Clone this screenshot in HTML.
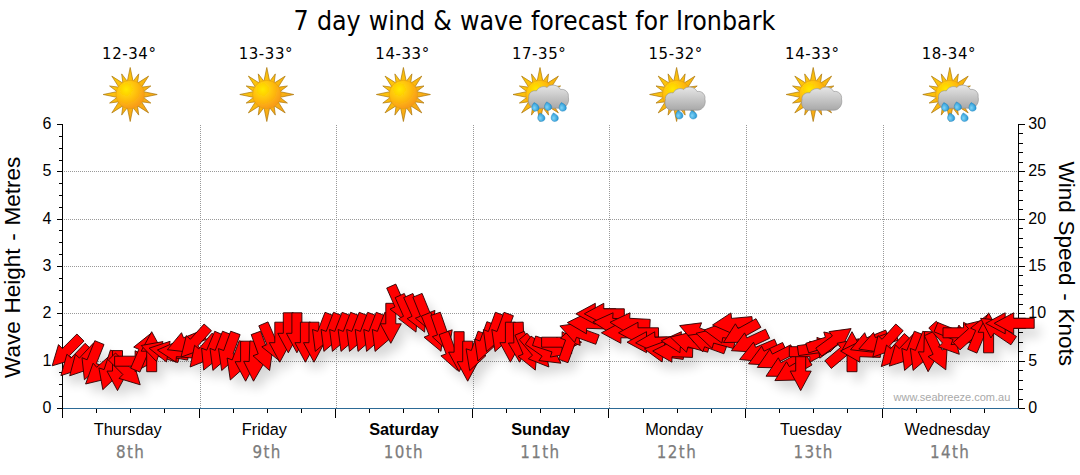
<!DOCTYPE html>
<html lang="en"><head><meta charset="utf-8"><title>7 day wind &amp; wave forecast for Ironbark</title>
<style>
html,body{margin:0;padding:0;background:#fff;}
body{width:1080px;height:475px;overflow:hidden;}
svg{display:block;}
.ax{font-family:"Liberation Sans",Arial,sans-serif;font-size:16px;fill:#000;}
.day{font-family:"Liberation Sans",Arial,sans-serif;font-size:16.3px;fill:#000;text-anchor:middle;}
.dt{font-family:"DejaVu Sans Condensed","DejaVu Sans",sans-serif;font-size:16.8px;fill:#7c7c7c;stroke:#7c7c7c;stroke-width:0.25px;text-anchor:middle;letter-spacing:1.4px;}
.tmp{font-family:"DejaVu Sans Condensed","DejaVu Sans",sans-serif;font-size:16.6px;fill:#000;text-anchor:middle;letter-spacing:0.6px;}
.ttl{font-family:"DejaVu Sans Condensed","DejaVu Sans",sans-serif;font-size:26.46px;fill:#000;text-anchor:middle;word-spacing:0.6px;}
.side{font-family:"Liberation Sans",Arial,sans-serif;font-size:22.5px;fill:#000;text-anchor:middle;word-spacing:1.5px;}
.wm{font-family:"Liberation Sans",Arial,sans-serif;font-size:11px;fill:#a9a9a9;}
</style></head><body>
<svg width="1080" height="475" viewBox="0 0 1080 475">
<defs>
<radialGradient id="sg" cx="0.36" cy="0.32" r="0.75"><stop offset="0" stop-color="#ffe800"/><stop offset="0.45" stop-color="#ffc20a"/><stop offset="1" stop-color="#f7941d"/></radialGradient>
<linearGradient id="rg" x1="0" y1="0" x2="1" y2="1"><stop offset="0" stop-color="#ffd400"/><stop offset="1" stop-color="#f59a1c"/></linearGradient>
<linearGradient id="cg" x1="0" y1="0" x2="0" y2="1"><stop offset="0" stop-color="#e6e6e6"/><stop offset="1" stop-color="#a9a9a9"/></linearGradient>
<radialGradient id="dg" cx="0.35" cy="0.6" r="0.7"><stop offset="0" stop-color="#7fd4f7"/><stop offset="1" stop-color="#1b8fd0"/></radialGradient>
<filter id="sh" x="-5%" y="-30%" width="110%" height="180%"><feGaussianBlur in="SourceAlpha" stdDeviation="5.5"/><feOffset dx="6" dy="9" result="b"/><feComponentTransfer><feFuncA type="linear" slope="0.16"/></feComponentTransfer></filter>
<filter id="is" x="-20%" y="-20%" width="140%" height="140%"><feGaussianBlur stdDeviation="0.45"/></filter>

<g id="sun"><path d="M3.00 -12.50 L0.00 -27.00 L-3.00 -12.50Z M7.19 -10.55 L8.53 -20.60 L2.38 -12.54Z M10.96 -6.72 L18.38 -18.38 L6.72 -10.96Z M12.54 -2.38 L20.60 -8.53 L10.55 -7.19Z M12.50 3.00 L27.00 0.00 L12.50 -3.00Z M10.55 7.19 L20.60 8.53 L12.54 2.38Z M6.72 10.96 L18.38 18.38 L10.96 6.72Z M2.38 12.54 L8.53 20.60 L7.19 10.55Z M-3.00 12.50 L0.00 27.00 L3.00 12.50Z M-7.19 10.55 L-8.53 20.60 L-2.38 12.54Z M-10.96 6.72 L-18.38 18.38 L-6.72 10.96Z M-12.54 2.38 L-20.60 8.53 L-10.55 7.19Z M-12.50 -3.00 L-27.00 0.00 L-12.50 3.00Z M-10.55 -7.19 L-20.60 -8.53 L-12.54 -2.38Z M-6.72 -10.96 L-18.38 -18.38 L-10.96 -6.72Z M-2.38 -12.54 L-8.53 -20.60 L-7.19 -10.55Z" fill="url(#rg)" stroke="#a9740a" stroke-width="0.7"/><circle r="14.2" fill="url(#sg)" stroke="#e09a10" stroke-width="0.5"/></g>
<path id="cloud" d="M-5 13.7 C-10 13.7 -12.6 8 -11.2 3.5 C-12 -1 -8 -4.6 -3.5 -3.6 C-1.5 -7.5 4 -9 7 -7 C10 -10.8 18 -10.2 20.5 -5 C25 -6 29.2 -2 28.3 2.5 C29.8 8 26 13.7 21 13.7 Z" fill="url(#cg)" stroke="#8f8f8f" stroke-width="0.6"/>
<path id="drop" d="M-1.6 -4.6 C-3.2 -2.6 -4.2 -0.4 -3.6 1.6 C-3 3.8 -0.4 4.6 1.6 3.6 C3.8 2.6 4 0 2.6 -1.8 C1.6 -3 -0.2 -4 -1.6 -4.6Z" fill="url(#dg)" stroke="#1479b8" stroke-width="0.4"/>
</defs>
<rect width="1080" height="475" fill="#fff"/>
<g stroke="#999" stroke-width="1" stroke-dasharray="1 1" shape-rendering="crispEdges"><line x1="63.5" y1="361.5" x2="1017.5" y2="361.5"/><line x1="63.5" y1="313.5" x2="1017.5" y2="313.5"/><line x1="63.5" y1="266.5" x2="1017.5" y2="266.5"/><line x1="63.5" y1="219.5" x2="1017.5" y2="219.5"/><line x1="63.5" y1="171.5" x2="1017.5" y2="171.5"/><line x1="200.5" y1="124.5" x2="200.5" y2="407.5"/><line x1="336.5" y1="124.5" x2="336.5" y2="407.5"/><line x1="473.5" y1="124.5" x2="473.5" y2="407.5"/><line x1="609.5" y1="124.5" x2="609.5" y2="407.5"/><line x1="746.5" y1="124.5" x2="746.5" y2="407.5"/><line x1="883.5" y1="124.5" x2="883.5" y2="407.5"/></g>
<text class="wm" x="893.5" y="401">www.seabreeze.com.au</text>
<g stroke="#000" stroke-width="1" shape-rendering="crispEdges"><line x1="62.5" y1="124.0" x2="62.5" y2="409.0"/><line x1="1018.5" y1="124.0" x2="1018.5" y2="409.0"/><line x1="56.5" y1="408.5" x2="62.5" y2="408.5"/><line x1="58.5" y1="396.5" x2="62.5" y2="396.5"/><line x1="58.5" y1="384.5" x2="62.5" y2="384.5"/><line x1="58.5" y1="372.5" x2="62.5" y2="372.5"/><line x1="56.5" y1="361.5" x2="62.5" y2="361.5"/><line x1="58.5" y1="349.5" x2="62.5" y2="349.5"/><line x1="58.5" y1="337.5" x2="62.5" y2="337.5"/><line x1="58.5" y1="325.5" x2="62.5" y2="325.5"/><line x1="56.5" y1="313.5" x2="62.5" y2="313.5"/><line x1="58.5" y1="302.5" x2="62.5" y2="302.5"/><line x1="58.5" y1="290.5" x2="62.5" y2="290.5"/><line x1="58.5" y1="278.5" x2="62.5" y2="278.5"/><line x1="56.5" y1="266.5" x2="62.5" y2="266.5"/><line x1="58.5" y1="254.5" x2="62.5" y2="254.5"/><line x1="58.5" y1="242.5" x2="62.5" y2="242.5"/><line x1="58.5" y1="230.5" x2="62.5" y2="230.5"/><line x1="56.5" y1="219.5" x2="62.5" y2="219.5"/><line x1="58.5" y1="207.5" x2="62.5" y2="207.5"/><line x1="58.5" y1="195.5" x2="62.5" y2="195.5"/><line x1="58.5" y1="183.5" x2="62.5" y2="183.5"/><line x1="56.5" y1="171.5" x2="62.5" y2="171.5"/><line x1="58.5" y1="160.5" x2="62.5" y2="160.5"/><line x1="58.5" y1="148.5" x2="62.5" y2="148.5"/><line x1="58.5" y1="136.5" x2="62.5" y2="136.5"/><line x1="56.5" y1="124.5" x2="62.5" y2="124.5"/><line x1="1018.5" y1="408.5" x2="1024.5" y2="408.5"/><line x1="1018.5" y1="399.5" x2="1022.5" y2="399.5"/><line x1="1018.5" y1="389.5" x2="1022.5" y2="389.5"/><line x1="1018.5" y1="380.5" x2="1022.5" y2="380.5"/><line x1="1018.5" y1="370.5" x2="1022.5" y2="370.5"/><line x1="1018.5" y1="361.5" x2="1024.5" y2="361.5"/><line x1="1018.5" y1="351.5" x2="1022.5" y2="351.5"/><line x1="1018.5" y1="342.5" x2="1022.5" y2="342.5"/><line x1="1018.5" y1="332.5" x2="1022.5" y2="332.5"/><line x1="1018.5" y1="323.5" x2="1022.5" y2="323.5"/><line x1="1018.5" y1="313.5" x2="1024.5" y2="313.5"/><line x1="1018.5" y1="304.5" x2="1022.5" y2="304.5"/><line x1="1018.5" y1="294.5" x2="1022.5" y2="294.5"/><line x1="1018.5" y1="285.5" x2="1022.5" y2="285.5"/><line x1="1018.5" y1="275.5" x2="1022.5" y2="275.5"/><line x1="1018.5" y1="266.5" x2="1024.5" y2="266.5"/><line x1="1018.5" y1="257.5" x2="1022.5" y2="257.5"/><line x1="1018.5" y1="247.5" x2="1022.5" y2="247.5"/><line x1="1018.5" y1="238.5" x2="1022.5" y2="238.5"/><line x1="1018.5" y1="228.5" x2="1022.5" y2="228.5"/><line x1="1018.5" y1="219.5" x2="1024.5" y2="219.5"/><line x1="1018.5" y1="209.5" x2="1022.5" y2="209.5"/><line x1="1018.5" y1="200.5" x2="1022.5" y2="200.5"/><line x1="1018.5" y1="190.5" x2="1022.5" y2="190.5"/><line x1="1018.5" y1="181.5" x2="1022.5" y2="181.5"/><line x1="1018.5" y1="171.5" x2="1024.5" y2="171.5"/><line x1="1018.5" y1="162.5" x2="1022.5" y2="162.5"/><line x1="1018.5" y1="152.5" x2="1022.5" y2="152.5"/><line x1="1018.5" y1="143.5" x2="1022.5" y2="143.5"/><line x1="1018.5" y1="133.5" x2="1022.5" y2="133.5"/><line x1="1018.5" y1="124.5" x2="1024.5" y2="124.5"/><line x1="62.5" y1="408.5" x2="62.5" y2="417.5"/><line x1="96.5" y1="408.5" x2="96.5" y2="412.5"/><line x1="130.5" y1="408.5" x2="130.5" y2="412.5"/><line x1="164.5" y1="408.5" x2="164.5" y2="412.5"/><line x1="199.5" y1="408.5" x2="199.5" y2="417.5"/><line x1="233.5" y1="408.5" x2="233.5" y2="412.5"/><line x1="267.5" y1="408.5" x2="267.5" y2="412.5"/><line x1="301.5" y1="408.5" x2="301.5" y2="412.5"/><line x1="335.5" y1="408.5" x2="335.5" y2="417.5"/><line x1="369.5" y1="408.5" x2="369.5" y2="412.5"/><line x1="403.5" y1="408.5" x2="403.5" y2="412.5"/><line x1="438.5" y1="408.5" x2="438.5" y2="412.5"/><line x1="472.5" y1="408.5" x2="472.5" y2="417.5"/><line x1="506.5" y1="408.5" x2="506.5" y2="412.5"/><line x1="540.5" y1="408.5" x2="540.5" y2="412.5"/><line x1="574.5" y1="408.5" x2="574.5" y2="412.5"/><line x1="608.5" y1="408.5" x2="608.5" y2="417.5"/><line x1="643.5" y1="408.5" x2="643.5" y2="412.5"/><line x1="677.5" y1="408.5" x2="677.5" y2="412.5"/><line x1="711.5" y1="408.5" x2="711.5" y2="412.5"/><line x1="745.5" y1="408.5" x2="745.5" y2="417.5"/><line x1="779.5" y1="408.5" x2="779.5" y2="412.5"/><line x1="813.5" y1="408.5" x2="813.5" y2="412.5"/><line x1="847.5" y1="408.5" x2="847.5" y2="412.5"/><line x1="882.5" y1="408.5" x2="882.5" y2="417.5"/><line x1="916.5" y1="408.5" x2="916.5" y2="412.5"/><line x1="950.5" y1="408.5" x2="950.5" y2="412.5"/><line x1="984.5" y1="408.5" x2="984.5" y2="412.5"/></g>
<line x1="62.5" y1="408.5" x2="1018.5" y2="408.5" stroke="#2c6a96" stroke-width="1" shape-rendering="crispEdges"/>
<text class="ax" x="51.4" y="413.1" text-anchor="end">0</text>
<text class="ax" x="51.4" y="365.8" text-anchor="end">1</text>
<text class="ax" x="51.4" y="318.4" text-anchor="end">2</text>
<text class="ax" x="51.4" y="271.1" text-anchor="end">3</text>
<text class="ax" x="51.4" y="223.8" text-anchor="end">4</text>
<text class="ax" x="51.4" y="176.4" text-anchor="end">5</text>
<text class="ax" x="51.4" y="129.1" text-anchor="end">6</text>
<text class="ax" x="1028.3" y="413.1">0</text>
<text class="ax" x="1028.3" y="365.8">5</text>
<text class="ax" x="1028.3" y="318.4">10</text>
<text class="ax" x="1028.3" y="271.1">15</text>
<text class="ax" x="1028.3" y="223.8">20</text>
<text class="ax" x="1028.3" y="176.4">25</text>
<text class="ax" x="1028.3" y="129.1">30</text>
<text class="side" transform="translate(20,267.4) rotate(-90)">Wave Height - Metres</text>
<text class="side" transform="translate(1059,263.8) rotate(90)">Wind Speed - Knots</text>
<text class="ttl" x="534.4" y="30">7 day wind &amp; wave forecast for Ironbark</text>
<text class="day" x="127.8" y="435">Thursday</text>
<text class="dt" x="130.6" y="458.3">8th</text>
<text class="tmp" x="129.3" y="59">12-34°</text>
<g transform="translate(130.2,94.5)" filter="url(#is)">
<use href="#sun"/>
</g>
<text class="day" x="264.4" y="435">Friday</text>
<text class="dt" x="267.2" y="458.3">9th</text>
<text class="tmp" x="265.9" y="59">13-33°</text>
<g transform="translate(266.8,94.5)" filter="url(#is)">
<use href="#sun"/>
</g>
<text class="day" x="404.0" y="435" font-weight="bold">Saturday</text>
<text class="dt" x="403.8" y="458.3">10th</text>
<text class="tmp" x="402.5" y="59">14-33°</text>
<g transform="translate(403.4,94.5)" filter="url(#is)">
<use href="#sun"/>
</g>
<text class="day" x="540.6" y="435" font-weight="bold">Sunday</text>
<text class="dt" x="540.4" y="458.3">11th</text>
<text class="tmp" x="539.1" y="59">17-35°</text>
<g transform="translate(540.0,94.5)" filter="url(#is)">
<use href="#sun"/>
<use href="#cloud"/>
<use href="#drop" x="-4.4" y="12.7"/>
<use href="#drop" x="8.2" y="12.0"/>
<use href="#drop" x="22.9" y="12.7"/>
<use href="#drop" x="1.5" y="23.0"/>
<use href="#drop" x="14.9" y="23.0"/>
</g>
<text class="day" x="674.2" y="435">Monday</text>
<text class="dt" x="677.0" y="458.3">12th</text>
<text class="tmp" x="675.7" y="59">15-32°</text>
<g transform="translate(676.6,94.5)" filter="url(#is)">
<use href="#sun"/>
<use href="#cloud" transform="translate(0,2)"/>
<use href="#drop" x="2.9" y="20.5"/><use href="#drop" x="16.8" y="20.5"/>
</g>
<text class="day" x="810.8" y="435">Tuesday</text>
<text class="dt" x="813.6" y="458.3">13th</text>
<text class="tmp" x="812.3" y="59">14-33°</text>
<g transform="translate(813.2,94.5)" filter="url(#is)">
<use href="#sun"/>
<use href="#cloud" transform="translate(0,2)"/>
</g>
<text class="day" x="947.4" y="435">Wednesday</text>
<text class="dt" x="950.2" y="458.3">14th</text>
<text class="tmp" x="948.9" y="59">18-34°</text>
<g transform="translate(949.8,94.5)" filter="url(#is)">
<use href="#sun"/>
<use href="#cloud"/>
<use href="#drop" x="-4.4" y="12.7"/>
<use href="#drop" x="8.2" y="12.0"/>
<use href="#drop" x="22.9" y="12.7"/>
<use href="#drop" x="1.5" y="23.0"/>
<use href="#drop" x="14.9" y="23.0"/>
</g>
<g filter="url(#sh)" fill="#000"><path d="M52.2 365.8 L73.4 359.5 L69.5 355.6 L84.0 341.1 L76.9 334.0 L62.4 348.5 L58.5 344.6Z"/><path d="M60.9 375.6 L82.0 368.8 L78.1 365.0 L92.3 350.3 L85.1 343.3 L70.9 358.1 L66.9 354.2Z"/><path d="M69.7 375.8 L90.7 368.7 L86.7 364.9 L100.7 349.9 L93.4 343.1 L79.4 358.1 L75.4 354.4Z"/><path d="M84.4 379.7 L101.5 365.6 L96.4 363.5 L104.0 344.5 L94.8 340.7 L87.1 359.8 L82.0 357.7Z"/><path d="M85.6 384.0 L107.1 378.8 L103.4 374.7 L118.7 361.0 L112.0 353.5 L96.7 367.3 L93.1 363.2Z"/><path d="M102.8 389.7 L118.8 374.4 L113.6 372.7 L119.9 353.2 L110.4 350.1 L104.1 369.6 L98.9 367.9Z"/><path d="M117.5 390.6 L128.0 371.1 L122.5 371.1 L122.5 350.6 L112.5 350.6 L112.5 371.1 L107.0 371.1Z"/><path d="M140.2 384.8 L133.9 363.6 L130.0 367.5 L115.5 353.0 L108.4 360.0 L122.9 374.5 L119.0 378.4Z"/><path d="M154.6 361.2 L135.1 350.7 L135.1 356.2 L114.6 356.2 L114.6 366.2 L135.1 366.2 L135.1 371.7Z"/><path d="M151.0 333.3 L133.7 347.1 L138.8 349.3 L130.7 368.2 L139.9 372.1 L148.0 353.2 L153.0 355.3Z"/><path d="M151.7 331.7 L141.2 351.2 L146.7 351.2 L146.7 371.7 L156.7 371.7 L156.7 351.2 L162.2 351.2Z"/><path d="M141.2 345.5 L156.5 361.5 L158.2 356.3 L177.7 362.6 L180.8 353.1 L161.3 346.8 L163.0 341.6Z"/><path d="M149.1 348.2 L166.5 362.0 L167.4 356.5 L187.6 360.1 L189.3 350.2 L169.2 346.7 L170.1 341.3Z"/><path d="M157.4 350.0 L175.9 362.1 L176.4 356.6 L196.8 358.4 L197.7 348.5 L177.3 346.7 L177.7 341.2Z"/><path d="M167.3 349.7 L189.3 352.2 L187.3 347.1 L206.3 339.4 L202.5 330.1 L183.5 337.8 L181.5 332.7Z"/><path d="M181.0 357.1 L201.9 349.6 L197.8 346.0 L211.5 330.7 L204.1 324.0 L190.3 339.3 L186.3 335.6Z"/><path d="M190.1 367.0 L210.7 358.8 L206.4 355.3 L219.6 339.6 L212.0 333.2 L198.8 348.9 L194.6 345.3Z"/><path d="M203.7 370.1 L220.9 356.3 L215.9 354.1 L223.9 335.2 L214.7 331.3 L206.7 350.2 L201.6 348.1Z"/><path d="M212.9 370.4 L229.6 355.9 L224.5 354.0 L231.9 334.8 L222.5 331.2 L215.2 350.4 L210.0 348.4Z"/><path d="M221.7 370.5 L238.3 355.8 L233.1 353.9 L240.1 334.6 L230.7 331.2 L223.7 350.5 L218.5 348.6Z"/><path d="M230.3 380.0 L246.8 365.2 L241.6 363.3 L248.6 344.1 L239.2 340.7 L232.2 359.9 L227.1 358.0Z"/><path d="M245.6 381.2 L256.1 361.7 L250.6 361.7 L250.6 341.2 L240.6 341.2 L240.6 361.7 L235.1 361.7Z"/><path d="M253.5 381.2 L264.7 362.0 L259.2 361.8 L259.9 341.4 L249.9 341.0 L249.2 361.5 L243.7 361.3Z"/><path d="M269.6 370.5 L272.8 348.6 L267.6 350.5 L260.6 331.2 L251.2 334.6 L258.2 353.9 L253.0 355.8Z"/><path d="M279.1 360.6 L281.1 338.6 L276.1 340.7 L268.0 321.9 L258.8 325.8 L266.9 344.6 L261.8 346.8Z"/><path d="M279.8 362.2 L290.3 342.7 L284.8 342.7 L284.8 322.2 L274.8 322.2 L274.8 342.7 L269.3 342.7Z"/><path d="M288.3 352.8 L298.8 333.3 L293.3 333.3 L293.3 312.8 L283.3 312.8 L283.3 333.3 L277.8 333.3Z"/><path d="M296.9 352.8 L307.4 333.3 L301.9 333.3 L301.9 312.8 L291.9 312.8 L291.9 333.3 L286.4 333.3Z"/><path d="M305.4 362.2 L315.9 342.7 L310.4 342.7 L310.4 322.2 L300.4 322.2 L300.4 342.7 L294.9 342.7Z"/><path d="M314.0 362.2 L324.5 342.7 L319.0 342.7 L319.0 322.2 L309.0 322.2 L309.0 342.7 L303.5 342.7Z"/><path d="M315.3 351.4 L332.1 337.0 L327.0 335.0 L334.3 315.9 L325.0 312.3 L317.7 331.4 L312.5 329.5Z"/><path d="M323.9 351.4 L340.7 337.0 L335.5 335.0 L342.9 315.9 L333.5 312.3 L326.2 331.4 L321.1 329.5Z"/><path d="M332.4 351.4 L349.2 337.0 L344.1 335.0 L351.4 315.9 L342.1 312.3 L334.7 331.4 L329.6 329.5Z"/><path d="M341.0 351.4 L357.7 337.0 L352.6 335.0 L360.0 315.9 L350.6 312.3 L343.3 331.4 L338.1 329.5Z"/><path d="M349.5 351.4 L366.3 337.0 L361.1 335.0 L368.5 315.9 L359.2 312.3 L351.8 331.4 L346.7 329.5Z"/><path d="M358.0 351.4 L374.8 337.0 L369.7 335.0 L377.0 315.9 L367.7 312.3 L360.4 331.4 L355.2 329.5Z"/><path d="M366.6 351.4 L383.4 337.0 L378.2 335.0 L385.6 315.9 L376.2 312.3 L368.9 331.4 L363.8 329.5Z"/><path d="M375.1 351.4 L391.9 337.0 L386.8 335.0 L394.1 315.9 L384.8 312.3 L377.4 331.4 L372.3 329.5Z"/><path d="M390.8 343.3 L401.3 323.8 L395.8 323.8 L395.8 303.3 L385.8 303.3 L385.8 323.8 L380.3 323.8Z"/><path d="M407.5 322.6 L409.2 300.6 L404.1 302.8 L395.8 284.1 L386.7 288.1 L395.0 306.9 L390.0 309.1Z"/><path d="M416.0 332.1 L417.7 310.0 L412.7 312.3 L404.3 293.5 L395.2 297.6 L403.5 316.3 L398.5 318.6Z"/><path d="M424.6 332.1 L426.2 310.0 L421.2 312.3 L412.9 293.5 L403.7 297.6 L412.1 316.3 L407.1 318.6Z"/><path d="M432.5 332.4 L434.9 310.4 L429.8 312.4 L422.1 293.4 L412.9 297.2 L420.5 316.2 L415.4 318.2Z"/><path d="M441.0 351.3 L443.4 329.3 L438.3 331.4 L430.7 312.3 L421.4 316.1 L429.1 335.1 L424.0 337.2Z"/><path d="M448.6 351.7 L452.2 329.8 L447.0 331.6 L440.3 312.2 L430.8 315.5 L437.5 334.9 L432.3 336.7Z"/><path d="M457.4 370.5 L460.6 348.6 L455.5 350.5 L448.5 331.2 L439.1 334.6 L446.1 353.9 L440.9 355.8Z"/><path d="M459.1 371.7 L469.6 352.2 L464.1 352.2 L464.1 331.7 L454.1 331.7 L454.1 352.2 L448.6 352.2Z"/><path d="M467.7 381.2 L478.2 361.7 L472.7 361.7 L472.7 341.2 L462.7 341.2 L462.7 361.7 L457.2 361.7Z"/><path d="M469.7 370.6 L486.0 355.6 L480.8 353.8 L487.5 334.4 L478.0 331.2 L471.3 350.5 L466.1 348.8Z"/><path d="M477.9 361.0 L494.5 346.3 L489.3 344.4 L496.3 325.1 L486.9 321.7 L479.9 341.0 L474.7 339.1Z"/><path d="M486.5 351.6 L503.0 336.8 L497.8 334.9 L504.8 315.7 L495.4 312.3 L488.4 331.5 L483.3 329.6Z"/><path d="M495.0 351.6 L511.5 336.8 L506.4 334.9 L513.4 315.7 L504.0 312.3 L497.0 331.5 L491.8 329.6Z"/><path d="M510.4 362.2 L520.9 342.7 L515.4 342.7 L515.4 322.2 L505.4 322.2 L505.4 342.7 L499.9 342.7Z"/><path d="M519.6 362.2 L529.4 342.4 L523.9 342.6 L523.2 322.1 L513.2 322.4 L513.9 342.9 L508.4 343.1Z"/><path d="M535.3 370.1 L537.3 348.1 L532.3 350.2 L524.2 331.3 L515.0 335.2 L523.1 354.1 L518.0 356.3Z"/><path d="M548.9 367.0 L544.4 345.3 L540.2 348.9 L527.0 333.2 L519.3 339.6 L532.5 355.3 L528.3 358.8Z"/><path d="M560.9 363.2 L551.0 343.4 L547.8 347.9 L531.0 336.1 L525.3 344.3 L542.1 356.1 L538.9 360.6Z"/><path d="M572.1 353.1 L556.8 337.1 L555.1 342.4 L535.6 336.0 L532.5 345.5 L552.0 351.9 L550.3 357.1Z"/><path d="M581.6 342.2 L562.1 331.7 L562.1 337.2 L541.6 337.2 L541.6 347.2 L562.1 347.2 L562.1 352.7Z"/><path d="M577.0 323.4 L560.5 338.2 L565.6 340.1 L558.6 359.3 L568.0 362.7 L575.0 343.5 L580.2 345.4Z"/><path d="M559.9 325.9 L574.6 342.5 L576.5 337.3 L595.8 344.3 L599.2 334.9 L579.9 327.9 L581.8 322.7Z"/><path d="M567.3 322.6 L586.4 333.8 L586.6 328.3 L607.1 329.0 L607.4 319.0 L586.9 318.3 L587.1 312.8Z"/><path d="M575.8 313.8 L595.3 324.3 L595.3 318.8 L615.8 318.8 L615.8 308.8 L595.3 308.8 L595.3 303.3Z"/><path d="M584.3 313.8 L603.8 324.3 L603.8 318.8 L624.3 318.8 L624.3 308.8 L603.8 308.8 L603.8 303.3Z"/><path d="M592.9 321.9 L611.6 333.7 L612.0 328.3 L632.5 329.7 L633.2 319.7 L612.7 318.3 L613.1 312.8Z"/><path d="M601.4 332.8 L620.9 343.3 L620.9 337.8 L641.4 337.8 L641.4 327.8 L620.9 327.8 L620.9 322.3Z"/><path d="M610.0 322.3 L628.9 333.8 L629.2 328.3 L649.7 329.3 L650.2 319.4 L629.7 318.3 L630.0 312.8Z"/><path d="M618.5 332.8 L638.0 343.3 L638.0 337.8 L658.5 337.8 L658.5 327.8 L638.0 327.8 L638.0 322.3Z"/><path d="M627.0 342.2 L646.5 352.7 L646.5 347.2 L667.0 347.2 L667.0 337.2 L646.5 337.2 L646.5 331.7Z"/><path d="M635.6 342.9 L655.4 352.7 L655.2 347.2 L675.7 346.5 L675.4 336.5 L654.9 337.3 L654.7 331.8Z"/><path d="M644.3 348.9 L662.1 362.0 L662.9 356.6 L683.2 359.4 L684.6 349.5 L664.3 346.7 L665.1 341.2Z"/><path d="M652.7 351.0 L671.8 362.2 L672.0 356.7 L692.5 357.4 L692.8 347.4 L672.3 346.7 L672.5 341.2Z"/><path d="M661.2 340.8 L679.9 352.7 L680.3 347.2 L700.8 348.6 L701.5 338.6 L681.0 337.2 L681.4 331.7Z"/><path d="M670.4 337.1 L686.5 352.2 L687.9 346.9 L707.7 352.2 L710.3 342.6 L690.5 337.3 L692.0 332.0Z"/><path d="M679.6 325.6 L694.0 342.4 L696.0 337.3 L715.1 344.6 L718.7 335.3 L699.6 327.9 L701.6 322.8Z"/><path d="M688.0 335.4 L702.7 351.9 L704.6 346.8 L723.9 353.8 L727.3 344.4 L708.0 337.4 L709.9 332.2Z"/><path d="M696.0 333.3 L712.1 348.5 L713.6 343.1 L733.4 348.5 L736.0 338.8 L716.2 333.5 L717.6 328.2Z"/><path d="M704.1 330.0 L721.9 343.1 L722.7 337.6 L743.0 340.5 L744.4 330.6 L724.1 327.7 L724.8 322.3Z"/><path d="M712.5 325.0 L732.8 333.8 L732.4 328.3 L752.8 326.5 L751.9 316.6 L731.5 318.4 L731.0 312.9Z"/><path d="M723.5 342.5 L745.6 342.2 L742.9 337.4 L760.9 327.4 L756.0 318.7 L738.1 328.6 L735.4 323.8Z"/><path d="M731.4 350.7 L753.5 352.0 L751.2 347.0 L769.7 338.3 L765.5 329.2 L746.9 337.9 L744.6 332.9Z"/><path d="M739.6 359.5 L761.7 361.6 L759.5 356.5 L778.4 348.5 L774.5 339.3 L755.6 347.3 L753.5 342.2Z"/><path d="M748.5 363.9 L770.6 365.2 L768.2 360.2 L786.8 351.6 L782.6 342.5 L764.0 351.2 L761.7 346.2Z"/><path d="M757.3 367.4 L779.4 367.9 L776.9 363.0 L795.2 353.7 L790.7 344.8 L772.4 354.1 L769.9 349.2Z"/><path d="M766.0 376.2 L788.1 376.4 L785.6 371.5 L803.7 361.9 L799.0 353.0 L780.9 362.7 L778.3 357.8Z"/><path d="M774.9 380.6 L797.0 380.0 L794.3 375.2 L812.0 365.0 L807.0 356.3 L789.3 366.6 L786.5 361.8Z"/><path d="M800.7 390.6 L811.2 371.1 L805.7 371.1 L805.7 350.6 L795.7 350.6 L795.7 371.1 L790.2 371.1Z"/><path d="M829.3 351.7 L809.8 341.2 L809.8 346.7 L789.3 346.7 L789.3 356.7 L809.8 356.7 L809.8 362.2Z"/><path d="M837.6 345.1 L816.9 337.4 L817.6 342.9 L797.3 345.7 L798.7 355.6 L819.0 352.8 L819.8 358.2Z"/><path d="M845.5 336.4 L823.8 332.0 L825.4 337.3 L805.8 343.3 L808.7 352.9 L828.3 346.9 L829.9 352.1Z"/><path d="M851.1 328.6 L829.1 331.6 L832.4 336.0 L815.8 348.1 L821.7 356.1 L838.2 344.1 L841.5 348.5Z"/><path d="M858.8 338.8 L837.1 343.3 L840.6 347.5 L824.9 360.7 L831.3 368.4 L847.0 355.2 L850.6 359.4Z"/><path d="M852.0 331.7 L841.5 351.2 L847.0 351.2 L847.0 371.7 L857.0 371.7 L857.0 351.2 L862.5 351.2Z"/><path d="M840.5 351.0 L859.7 362.2 L859.8 356.7 L880.3 357.4 L880.7 347.4 L860.2 346.7 L860.4 341.2Z"/><path d="M850.5 349.7 L872.5 352.2 L870.5 347.1 L889.5 339.4 L885.7 330.1 L866.7 337.8 L864.7 332.7Z"/><path d="M858.8 349.1 L880.7 352.3 L878.8 347.1 L898.1 340.1 L894.7 330.7 L875.4 337.7 L873.5 332.5Z"/><path d="M872.8 357.1 L893.6 349.6 L889.5 346.0 L903.2 330.7 L895.8 324.0 L882.1 339.3 L878.0 335.6Z"/><path d="M881.3 366.6 L902.1 359.1 L898.1 355.4 L911.8 340.2 L904.3 333.5 L890.6 348.7 L886.5 345.0Z"/><path d="M889.3 366.1 L910.4 359.4 L906.5 355.5 L920.7 340.8 L913.5 333.8 L899.3 348.6 L895.3 344.8Z"/><path d="M904.6 370.4 L921.4 355.9 L916.2 354.0 L923.6 334.8 L914.3 331.2 L906.9 350.4 L901.8 348.4Z"/><path d="M913.1 370.4 L929.9 355.9 L924.8 354.0 L932.1 334.8 L922.8 331.2 L915.5 350.4 L910.3 348.4Z"/><path d="M928.1 371.7 L939.3 352.6 L933.8 352.4 L934.5 331.9 L924.5 331.5 L923.8 352.0 L918.3 351.8Z"/><path d="M945.8 369.8 L947.1 347.7 L942.1 350.0 L933.5 331.5 L924.4 335.7 L933.1 354.3 L928.1 356.6Z"/><path d="M959.3 354.3 L954.1 332.7 L950.0 336.4 L936.3 321.2 L928.8 327.9 L942.5 343.1 L938.5 346.8Z"/><path d="M973.0 342.2 L958.9 325.1 L956.8 330.2 L937.8 322.5 L934.0 331.8 L953.1 339.5 L951.0 344.6Z"/><path d="M983.0 332.8 L963.5 322.3 L963.5 327.8 L943.0 327.8 L943.0 337.8 L963.5 337.8 L963.5 343.3Z"/><path d="M986.4 319.4 L964.9 324.6 L968.6 328.7 L953.3 342.4 L960.0 349.9 L975.3 336.1 L978.9 340.2Z"/><path d="M987.9 314.4 L970.6 328.2 L975.7 330.4 L967.7 349.2 L976.9 353.1 L984.9 334.3 L989.9 336.4Z"/><path d="M988.6 312.8 L978.1 332.3 L983.6 332.3 L983.6 352.8 L993.6 352.8 L993.6 332.3 L999.1 332.3Z"/><path d="M980.6 318.3 L990.9 337.9 L993.9 333.3 L1010.9 344.8 L1016.5 336.5 L999.5 325.0 L1002.6 320.5Z"/><path d="M985.7 323.3 L1005.2 333.8 L1005.2 328.3 L1025.7 328.3 L1025.7 318.3 L1005.2 318.3 L1005.2 312.8Z"/><path d="M994.2 323.3 L1013.7 333.8 L1013.7 328.3 L1034.2 328.3 L1034.2 318.3 L1013.7 318.3 L1013.7 312.8Z"/></g>
<g fill="#ff0000" stroke="#2a0000" stroke-width="0.9" stroke-linejoin="miter"><path d="M52.2 365.8 L73.4 359.5 L69.5 355.6 L84.0 341.1 L76.9 334.0 L62.4 348.5 L58.5 344.6Z"/><path d="M60.9 375.6 L82.0 368.8 L78.1 365.0 L92.3 350.3 L85.1 343.3 L70.9 358.1 L66.9 354.2Z"/><path d="M69.7 375.8 L90.7 368.7 L86.7 364.9 L100.7 349.9 L93.4 343.1 L79.4 358.1 L75.4 354.4Z"/><path d="M84.4 379.7 L101.5 365.6 L96.4 363.5 L104.0 344.5 L94.8 340.7 L87.1 359.8 L82.0 357.7Z"/><path d="M85.6 384.0 L107.1 378.8 L103.4 374.7 L118.7 361.0 L112.0 353.5 L96.7 367.3 L93.1 363.2Z"/><path d="M102.8 389.7 L118.8 374.4 L113.6 372.7 L119.9 353.2 L110.4 350.1 L104.1 369.6 L98.9 367.9Z"/><path d="M117.5 390.6 L128.0 371.1 L122.5 371.1 L122.5 350.6 L112.5 350.6 L112.5 371.1 L107.0 371.1Z"/><path d="M140.2 384.8 L133.9 363.6 L130.0 367.5 L115.5 353.0 L108.4 360.0 L122.9 374.5 L119.0 378.4Z"/><path d="M154.6 361.2 L135.1 350.7 L135.1 356.2 L114.6 356.2 L114.6 366.2 L135.1 366.2 L135.1 371.7Z"/><path d="M151.0 333.3 L133.7 347.1 L138.8 349.3 L130.7 368.2 L139.9 372.1 L148.0 353.2 L153.0 355.3Z"/><path d="M151.7 331.7 L141.2 351.2 L146.7 351.2 L146.7 371.7 L156.7 371.7 L156.7 351.2 L162.2 351.2Z"/><path d="M141.2 345.5 L156.5 361.5 L158.2 356.3 L177.7 362.6 L180.8 353.1 L161.3 346.8 L163.0 341.6Z"/><path d="M149.1 348.2 L166.5 362.0 L167.4 356.5 L187.6 360.1 L189.3 350.2 L169.2 346.7 L170.1 341.3Z"/><path d="M157.4 350.0 L175.9 362.1 L176.4 356.6 L196.8 358.4 L197.7 348.5 L177.3 346.7 L177.7 341.2Z"/><path d="M167.3 349.7 L189.3 352.2 L187.3 347.1 L206.3 339.4 L202.5 330.1 L183.5 337.8 L181.5 332.7Z"/><path d="M181.0 357.1 L201.9 349.6 L197.8 346.0 L211.5 330.7 L204.1 324.0 L190.3 339.3 L186.3 335.6Z"/><path d="M190.1 367.0 L210.7 358.8 L206.4 355.3 L219.6 339.6 L212.0 333.2 L198.8 348.9 L194.6 345.3Z"/><path d="M203.7 370.1 L220.9 356.3 L215.9 354.1 L223.9 335.2 L214.7 331.3 L206.7 350.2 L201.6 348.1Z"/><path d="M212.9 370.4 L229.6 355.9 L224.5 354.0 L231.9 334.8 L222.5 331.2 L215.2 350.4 L210.0 348.4Z"/><path d="M221.7 370.5 L238.3 355.8 L233.1 353.9 L240.1 334.6 L230.7 331.2 L223.7 350.5 L218.5 348.6Z"/><path d="M230.3 380.0 L246.8 365.2 L241.6 363.3 L248.6 344.1 L239.2 340.7 L232.2 359.9 L227.1 358.0Z"/><path d="M245.6 381.2 L256.1 361.7 L250.6 361.7 L250.6 341.2 L240.6 341.2 L240.6 361.7 L235.1 361.7Z"/><path d="M253.5 381.2 L264.7 362.0 L259.2 361.8 L259.9 341.4 L249.9 341.0 L249.2 361.5 L243.7 361.3Z"/><path d="M269.6 370.5 L272.8 348.6 L267.6 350.5 L260.6 331.2 L251.2 334.6 L258.2 353.9 L253.0 355.8Z"/><path d="M279.1 360.6 L281.1 338.6 L276.1 340.7 L268.0 321.9 L258.8 325.8 L266.9 344.6 L261.8 346.8Z"/><path d="M279.8 362.2 L290.3 342.7 L284.8 342.7 L284.8 322.2 L274.8 322.2 L274.8 342.7 L269.3 342.7Z"/><path d="M288.3 352.8 L298.8 333.3 L293.3 333.3 L293.3 312.8 L283.3 312.8 L283.3 333.3 L277.8 333.3Z"/><path d="M296.9 352.8 L307.4 333.3 L301.9 333.3 L301.9 312.8 L291.9 312.8 L291.9 333.3 L286.4 333.3Z"/><path d="M305.4 362.2 L315.9 342.7 L310.4 342.7 L310.4 322.2 L300.4 322.2 L300.4 342.7 L294.9 342.7Z"/><path d="M314.0 362.2 L324.5 342.7 L319.0 342.7 L319.0 322.2 L309.0 322.2 L309.0 342.7 L303.5 342.7Z"/><path d="M315.3 351.4 L332.1 337.0 L327.0 335.0 L334.3 315.9 L325.0 312.3 L317.7 331.4 L312.5 329.5Z"/><path d="M323.9 351.4 L340.7 337.0 L335.5 335.0 L342.9 315.9 L333.5 312.3 L326.2 331.4 L321.1 329.5Z"/><path d="M332.4 351.4 L349.2 337.0 L344.1 335.0 L351.4 315.9 L342.1 312.3 L334.7 331.4 L329.6 329.5Z"/><path d="M341.0 351.4 L357.7 337.0 L352.6 335.0 L360.0 315.9 L350.6 312.3 L343.3 331.4 L338.1 329.5Z"/><path d="M349.5 351.4 L366.3 337.0 L361.1 335.0 L368.5 315.9 L359.2 312.3 L351.8 331.4 L346.7 329.5Z"/><path d="M358.0 351.4 L374.8 337.0 L369.7 335.0 L377.0 315.9 L367.7 312.3 L360.4 331.4 L355.2 329.5Z"/><path d="M366.6 351.4 L383.4 337.0 L378.2 335.0 L385.6 315.9 L376.2 312.3 L368.9 331.4 L363.8 329.5Z"/><path d="M375.1 351.4 L391.9 337.0 L386.8 335.0 L394.1 315.9 L384.8 312.3 L377.4 331.4 L372.3 329.5Z"/><path d="M390.8 343.3 L401.3 323.8 L395.8 323.8 L395.8 303.3 L385.8 303.3 L385.8 323.8 L380.3 323.8Z"/><path d="M407.5 322.6 L409.2 300.6 L404.1 302.8 L395.8 284.1 L386.7 288.1 L395.0 306.9 L390.0 309.1Z"/><path d="M416.0 332.1 L417.7 310.0 L412.7 312.3 L404.3 293.5 L395.2 297.6 L403.5 316.3 L398.5 318.6Z"/><path d="M424.6 332.1 L426.2 310.0 L421.2 312.3 L412.9 293.5 L403.7 297.6 L412.1 316.3 L407.1 318.6Z"/><path d="M432.5 332.4 L434.9 310.4 L429.8 312.4 L422.1 293.4 L412.9 297.2 L420.5 316.2 L415.4 318.2Z"/><path d="M441.0 351.3 L443.4 329.3 L438.3 331.4 L430.7 312.3 L421.4 316.1 L429.1 335.1 L424.0 337.2Z"/><path d="M448.6 351.7 L452.2 329.8 L447.0 331.6 L440.3 312.2 L430.8 315.5 L437.5 334.9 L432.3 336.7Z"/><path d="M457.4 370.5 L460.6 348.6 L455.5 350.5 L448.5 331.2 L439.1 334.6 L446.1 353.9 L440.9 355.8Z"/><path d="M459.1 371.7 L469.6 352.2 L464.1 352.2 L464.1 331.7 L454.1 331.7 L454.1 352.2 L448.6 352.2Z"/><path d="M467.7 381.2 L478.2 361.7 L472.7 361.7 L472.7 341.2 L462.7 341.2 L462.7 361.7 L457.2 361.7Z"/><path d="M469.7 370.6 L486.0 355.6 L480.8 353.8 L487.5 334.4 L478.0 331.2 L471.3 350.5 L466.1 348.8Z"/><path d="M477.9 361.0 L494.5 346.3 L489.3 344.4 L496.3 325.1 L486.9 321.7 L479.9 341.0 L474.7 339.1Z"/><path d="M486.5 351.6 L503.0 336.8 L497.8 334.9 L504.8 315.7 L495.4 312.3 L488.4 331.5 L483.3 329.6Z"/><path d="M495.0 351.6 L511.5 336.8 L506.4 334.9 L513.4 315.7 L504.0 312.3 L497.0 331.5 L491.8 329.6Z"/><path d="M510.4 362.2 L520.9 342.7 L515.4 342.7 L515.4 322.2 L505.4 322.2 L505.4 342.7 L499.9 342.7Z"/><path d="M519.6 362.2 L529.4 342.4 L523.9 342.6 L523.2 322.1 L513.2 322.4 L513.9 342.9 L508.4 343.1Z"/><path d="M535.3 370.1 L537.3 348.1 L532.3 350.2 L524.2 331.3 L515.0 335.2 L523.1 354.1 L518.0 356.3Z"/><path d="M548.9 367.0 L544.4 345.3 L540.2 348.9 L527.0 333.2 L519.3 339.6 L532.5 355.3 L528.3 358.8Z"/><path d="M560.9 363.2 L551.0 343.4 L547.8 347.9 L531.0 336.1 L525.3 344.3 L542.1 356.1 L538.9 360.6Z"/><path d="M572.1 353.1 L556.8 337.1 L555.1 342.4 L535.6 336.0 L532.5 345.5 L552.0 351.9 L550.3 357.1Z"/><path d="M581.6 342.2 L562.1 331.7 L562.1 337.2 L541.6 337.2 L541.6 347.2 L562.1 347.2 L562.1 352.7Z"/><path d="M577.0 323.4 L560.5 338.2 L565.6 340.1 L558.6 359.3 L568.0 362.7 L575.0 343.5 L580.2 345.4Z"/><path d="M559.9 325.9 L574.6 342.5 L576.5 337.3 L595.8 344.3 L599.2 334.9 L579.9 327.9 L581.8 322.7Z"/><path d="M567.3 322.6 L586.4 333.8 L586.6 328.3 L607.1 329.0 L607.4 319.0 L586.9 318.3 L587.1 312.8Z"/><path d="M575.8 313.8 L595.3 324.3 L595.3 318.8 L615.8 318.8 L615.8 308.8 L595.3 308.8 L595.3 303.3Z"/><path d="M584.3 313.8 L603.8 324.3 L603.8 318.8 L624.3 318.8 L624.3 308.8 L603.8 308.8 L603.8 303.3Z"/><path d="M592.9 321.9 L611.6 333.7 L612.0 328.3 L632.5 329.7 L633.2 319.7 L612.7 318.3 L613.1 312.8Z"/><path d="M601.4 332.8 L620.9 343.3 L620.9 337.8 L641.4 337.8 L641.4 327.8 L620.9 327.8 L620.9 322.3Z"/><path d="M610.0 322.3 L628.9 333.8 L629.2 328.3 L649.7 329.3 L650.2 319.4 L629.7 318.3 L630.0 312.8Z"/><path d="M618.5 332.8 L638.0 343.3 L638.0 337.8 L658.5 337.8 L658.5 327.8 L638.0 327.8 L638.0 322.3Z"/><path d="M627.0 342.2 L646.5 352.7 L646.5 347.2 L667.0 347.2 L667.0 337.2 L646.5 337.2 L646.5 331.7Z"/><path d="M635.6 342.9 L655.4 352.7 L655.2 347.2 L675.7 346.5 L675.4 336.5 L654.9 337.3 L654.7 331.8Z"/><path d="M644.3 348.9 L662.1 362.0 L662.9 356.6 L683.2 359.4 L684.6 349.5 L664.3 346.7 L665.1 341.2Z"/><path d="M652.7 351.0 L671.8 362.2 L672.0 356.7 L692.5 357.4 L692.8 347.4 L672.3 346.7 L672.5 341.2Z"/><path d="M661.2 340.8 L679.9 352.7 L680.3 347.2 L700.8 348.6 L701.5 338.6 L681.0 337.2 L681.4 331.7Z"/><path d="M670.4 337.1 L686.5 352.2 L687.9 346.9 L707.7 352.2 L710.3 342.6 L690.5 337.3 L692.0 332.0Z"/><path d="M679.6 325.6 L694.0 342.4 L696.0 337.3 L715.1 344.6 L718.7 335.3 L699.6 327.9 L701.6 322.8Z"/><path d="M688.0 335.4 L702.7 351.9 L704.6 346.8 L723.9 353.8 L727.3 344.4 L708.0 337.4 L709.9 332.2Z"/><path d="M696.0 333.3 L712.1 348.5 L713.6 343.1 L733.4 348.5 L736.0 338.8 L716.2 333.5 L717.6 328.2Z"/><path d="M704.1 330.0 L721.9 343.1 L722.7 337.6 L743.0 340.5 L744.4 330.6 L724.1 327.7 L724.8 322.3Z"/><path d="M712.5 325.0 L732.8 333.8 L732.4 328.3 L752.8 326.5 L751.9 316.6 L731.5 318.4 L731.0 312.9Z"/><path d="M723.5 342.5 L745.6 342.2 L742.9 337.4 L760.9 327.4 L756.0 318.7 L738.1 328.6 L735.4 323.8Z"/><path d="M731.4 350.7 L753.5 352.0 L751.2 347.0 L769.7 338.3 L765.5 329.2 L746.9 337.9 L744.6 332.9Z"/><path d="M739.6 359.5 L761.7 361.6 L759.5 356.5 L778.4 348.5 L774.5 339.3 L755.6 347.3 L753.5 342.2Z"/><path d="M748.5 363.9 L770.6 365.2 L768.2 360.2 L786.8 351.6 L782.6 342.5 L764.0 351.2 L761.7 346.2Z"/><path d="M757.3 367.4 L779.4 367.9 L776.9 363.0 L795.2 353.7 L790.7 344.8 L772.4 354.1 L769.9 349.2Z"/><path d="M766.0 376.2 L788.1 376.4 L785.6 371.5 L803.7 361.9 L799.0 353.0 L780.9 362.7 L778.3 357.8Z"/><path d="M774.9 380.6 L797.0 380.0 L794.3 375.2 L812.0 365.0 L807.0 356.3 L789.3 366.6 L786.5 361.8Z"/><path d="M800.7 390.6 L811.2 371.1 L805.7 371.1 L805.7 350.6 L795.7 350.6 L795.7 371.1 L790.2 371.1Z"/><path d="M829.3 351.7 L809.8 341.2 L809.8 346.7 L789.3 346.7 L789.3 356.7 L809.8 356.7 L809.8 362.2Z"/><path d="M837.6 345.1 L816.9 337.4 L817.6 342.9 L797.3 345.7 L798.7 355.6 L819.0 352.8 L819.8 358.2Z"/><path d="M845.5 336.4 L823.8 332.0 L825.4 337.3 L805.8 343.3 L808.7 352.9 L828.3 346.9 L829.9 352.1Z"/><path d="M851.1 328.6 L829.1 331.6 L832.4 336.0 L815.8 348.1 L821.7 356.1 L838.2 344.1 L841.5 348.5Z"/><path d="M858.8 338.8 L837.1 343.3 L840.6 347.5 L824.9 360.7 L831.3 368.4 L847.0 355.2 L850.6 359.4Z"/><path d="M852.0 331.7 L841.5 351.2 L847.0 351.2 L847.0 371.7 L857.0 371.7 L857.0 351.2 L862.5 351.2Z"/><path d="M840.5 351.0 L859.7 362.2 L859.8 356.7 L880.3 357.4 L880.7 347.4 L860.2 346.7 L860.4 341.2Z"/><path d="M850.5 349.7 L872.5 352.2 L870.5 347.1 L889.5 339.4 L885.7 330.1 L866.7 337.8 L864.7 332.7Z"/><path d="M858.8 349.1 L880.7 352.3 L878.8 347.1 L898.1 340.1 L894.7 330.7 L875.4 337.7 L873.5 332.5Z"/><path d="M872.8 357.1 L893.6 349.6 L889.5 346.0 L903.2 330.7 L895.8 324.0 L882.1 339.3 L878.0 335.6Z"/><path d="M881.3 366.6 L902.1 359.1 L898.1 355.4 L911.8 340.2 L904.3 333.5 L890.6 348.7 L886.5 345.0Z"/><path d="M889.3 366.1 L910.4 359.4 L906.5 355.5 L920.7 340.8 L913.5 333.8 L899.3 348.6 L895.3 344.8Z"/><path d="M904.6 370.4 L921.4 355.9 L916.2 354.0 L923.6 334.8 L914.3 331.2 L906.9 350.4 L901.8 348.4Z"/><path d="M913.1 370.4 L929.9 355.9 L924.8 354.0 L932.1 334.8 L922.8 331.2 L915.5 350.4 L910.3 348.4Z"/><path d="M928.1 371.7 L939.3 352.6 L933.8 352.4 L934.5 331.9 L924.5 331.5 L923.8 352.0 L918.3 351.8Z"/><path d="M945.8 369.8 L947.1 347.7 L942.1 350.0 L933.5 331.5 L924.4 335.7 L933.1 354.3 L928.1 356.6Z"/><path d="M959.3 354.3 L954.1 332.7 L950.0 336.4 L936.3 321.2 L928.8 327.9 L942.5 343.1 L938.5 346.8Z"/><path d="M973.0 342.2 L958.9 325.1 L956.8 330.2 L937.8 322.5 L934.0 331.8 L953.1 339.5 L951.0 344.6Z"/><path d="M983.0 332.8 L963.5 322.3 L963.5 327.8 L943.0 327.8 L943.0 337.8 L963.5 337.8 L963.5 343.3Z"/><path d="M986.4 319.4 L964.9 324.6 L968.6 328.7 L953.3 342.4 L960.0 349.9 L975.3 336.1 L978.9 340.2Z"/><path d="M987.9 314.4 L970.6 328.2 L975.7 330.4 L967.7 349.2 L976.9 353.1 L984.9 334.3 L989.9 336.4Z"/><path d="M988.6 312.8 L978.1 332.3 L983.6 332.3 L983.6 352.8 L993.6 352.8 L993.6 332.3 L999.1 332.3Z"/><path d="M980.6 318.3 L990.9 337.9 L993.9 333.3 L1010.9 344.8 L1016.5 336.5 L999.5 325.0 L1002.6 320.5Z"/><path d="M985.7 323.3 L1005.2 333.8 L1005.2 328.3 L1025.7 328.3 L1025.7 318.3 L1005.2 318.3 L1005.2 312.8Z"/><path d="M994.2 323.3 L1013.7 333.8 L1013.7 328.3 L1034.2 328.3 L1034.2 318.3 L1013.7 318.3 L1013.7 312.8Z"/></g>
</svg></body></html>
